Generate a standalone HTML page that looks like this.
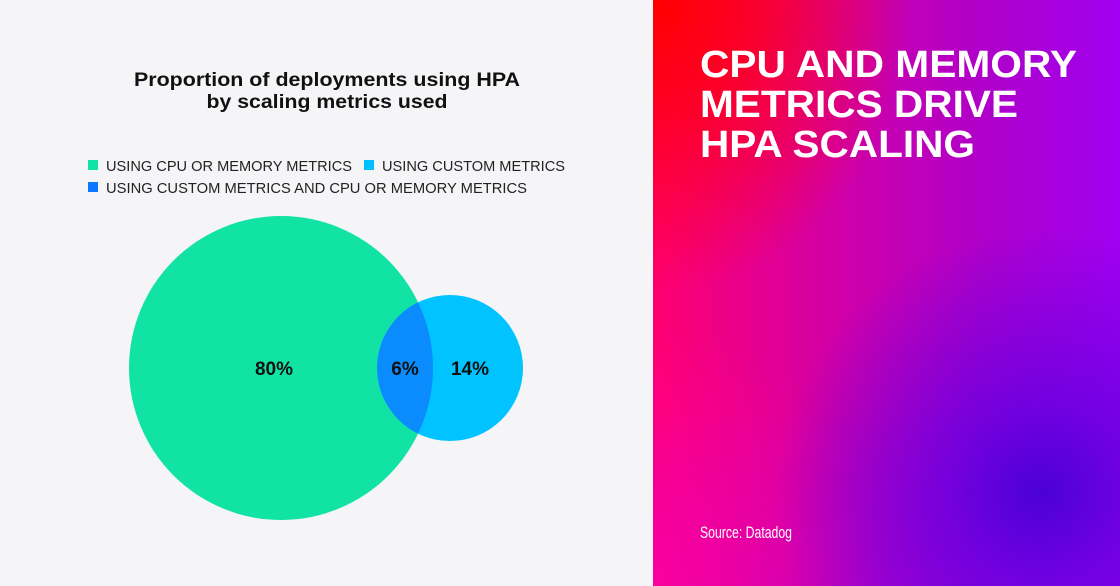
<!DOCTYPE html>
<html><head><style>
html,body{margin:0;padding:0;}
body{width:1120px;height:586px;overflow:hidden;background:#f5f5f8;position:relative;font-family:"Liberation Sans",sans-serif;}
#r{position:absolute;left:653px;top:0;width:467px;height:586px;
background:
radial-gradient(circle at 83% 84%, rgba(75,0,215,1) 0%, rgba(100,0,225,0.8) 14%, rgba(130,0,235,0) 42%),
radial-gradient(ellipse 55% 50% at 0% 0%, rgba(255,0,0,1) 0%, rgba(255,0,20,0.8) 40%, rgba(255,0,50,0) 100%),
radial-gradient(ellipse 50% 45% at 0% 100%, rgba(255,0,160,0.9) 0%, rgba(255,0,140,0) 100%),
linear-gradient(to bottom, rgba(0,0,0,0) 70%, rgba(150,0,230,0.4) 100%),
linear-gradient(to right,#ff0070 0%,#d000a8 40%,#b000c8 70%,#a000f0 100%);}
svg{position:absolute;left:0;top:0;}
</style></head><body>
<div id="r"></div>
<svg width="1120" height="586" xmlns="http://www.w3.org/2000/svg" font-family="Liberation Sans, sans-serif">
<text x="327" y="86" text-anchor="middle" font-size="19" font-weight="bold" fill="#111" textLength="386" lengthAdjust="spacingAndGlyphs">Proportion of deployments using HPA</text>
<text x="327" y="108" text-anchor="middle" font-size="19" font-weight="bold" fill="#111" textLength="241" lengthAdjust="spacingAndGlyphs">by scaling metrics used</text>
<rect x="88" y="160" width="10" height="10" fill="#10e3a4"/>
<text x="106" y="171" font-size="15" fill="#222" textLength="246" lengthAdjust="spacingAndGlyphs">USING CPU OR MEMORY METRICS</text>
<rect x="364" y="160" width="10" height="10" fill="#00bfff"/>
<text x="382" y="171" font-size="15" fill="#222" textLength="183" lengthAdjust="spacingAndGlyphs">USING CUSTOM METRICS</text>
<rect x="88" y="182" width="10" height="10" fill="#0a78ff"/>
<text x="106" y="193" font-size="15" fill="#222" textLength="421" lengthAdjust="spacingAndGlyphs">USING CUSTOM METRICS AND CPU OR MEMORY METRICS</text>
<defs><clipPath id="c"><circle cx="281" cy="368" r="152"/></clipPath></defs>
<circle cx="281" cy="368" r="152" fill="#10e3a4"/>
<circle cx="450" cy="368" r="73" fill="#00c3ff"/>
<circle cx="450" cy="368" r="73" fill="#0a8cff" clip-path="url(#c)"/>
<text x="274" y="375" text-anchor="middle" font-size="19" font-weight="bold" fill="#111">80%</text>
<text x="405" y="375" text-anchor="middle" font-size="19" font-weight="bold" fill="#111">6%</text>
<text x="470" y="375" text-anchor="middle" font-size="19" font-weight="bold" fill="#111">14%</text>
<g fill="#fff" font-weight="bold" font-size="38">
<text x="700" y="77" textLength="377" lengthAdjust="spacingAndGlyphs">CPU AND MEMORY</text>
<text x="700" y="117" textLength="318" lengthAdjust="spacingAndGlyphs">METRICS DRIVE</text>
<text x="700" y="157" textLength="275" lengthAdjust="spacingAndGlyphs">HPA SCALING</text>
</g>
<text x="700" y="538" font-size="17" fill="#fff" textLength="92" lengthAdjust="spacingAndGlyphs">Source: Datadog</text>
</svg>
</body></html>
